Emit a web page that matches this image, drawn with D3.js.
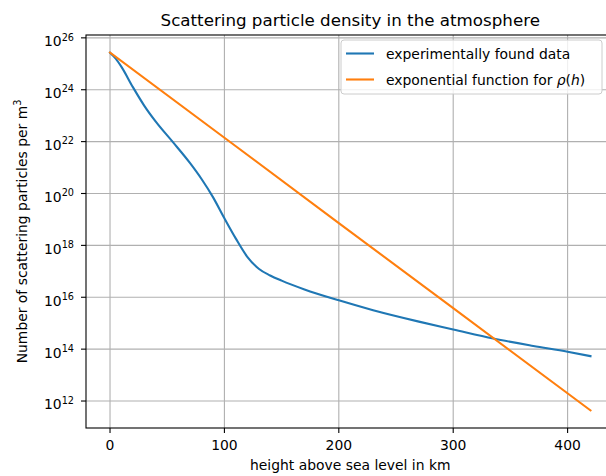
<!DOCTYPE html>
<html><head><meta charset="utf-8">
<script src="https://cdn.jsdelivr.net/npm/d3@7"></script>
<style>body{margin:0;background:#fff}svg{display:block}text{font-family:"DejaVu Sans",sans-serif;fill:#000}</style>
</head><body>
<script>
// Data
const heights = [0, 5, 10, 20, 30, 40, 55, 70, 80, 90, 100, 110, 120, 130, 140, 150, 170, 200, 230, 270, 300, 335, 370, 400, 420];
const measured = [2.69e25, 1.58e25, 7.59e24, 1.26e24, 2.40e23, 5.89e22, 9.55e21, 1.48e21, 3.63e20, 7.24e19, 1.10e19, 1.82e18, 3.63e17, 1.26e17, 6.92e16, 4.37e16, 2.00e16, 7.59e15, 3.16e15, 1.15e15, 5.75e14, 2.57e14, 1.33e14, 7.94e13, 5.37e13];
const expHeights = [0, 100, 200, 300, 420];
const expValues = [2.7e25, 1.41e22, 7.24e18, 3.8e15, 4.37e11];
const xTicks = [0, 100, 200, 300, 400];
const yTickExps = [12, 14, 16, 18, 20, 22, 24, 26];
const seriesNames = ["experimentally found data", "exponential function for ρ(h)"];
const colors = ["#1f77b4", "#ff7f0e"];

(function () {
const W = 606, H = 476;
const svg = d3.select("body").append("svg").attr("width", W).attr("height", H);
const pl = 86, pr = 614.5, pt = 35, pb = 428;
const x = d3.scaleLinear().domain([-21, 441]).range([pl, pr]);
const y = d3.scaleLog().domain([Math.pow(10, 10.96), Math.pow(10, 26.11)]).range([pb, pt]);

// grid
const g = svg.append("g");
g.selectAll(".gx").data(xTicks).enter().append("line")
  .attr("x1", d => x(d)).attr("x2", d => x(d)).attr("y1", pt).attr("y2", pb)
  .attr("stroke", "#b0b0b0").attr("stroke-width", 1.1);
g.selectAll(".gy").data(yTickExps).enter().append("line")
  .attr("x1", pl).attr("x2", pr).attr("y1", d => y(Math.pow(10, d))).attr("y2", d => y(Math.pow(10, d)))
  .attr("stroke", "#b0b0b0").attr("stroke-width", 1.1);

// lines
const lineGen = d3.line().x(d => x(d[0])).y(d => y(d[1])).curve(d3.curveMonotoneX);
svg.append("path").datum(heights.map((h, i) => [h, measured[i]]))
  .attr("d", lineGen).attr("fill", "none").attr("stroke", colors[0]).attr("stroke-width", 2.1).attr("stroke-linecap", "square");
svg.append("path").datum(expHeights.map((h, i) => [h, expValues[i]]))
  .attr("d", d3.line().x(d => x(d[0])).y(d => y(d[1]))).attr("fill", "none").attr("stroke", colors[1]).attr("stroke-width", 2.1).attr("stroke-linecap", "square");

// spines
svg.append("rect").attr("x", pl).attr("y", pt).attr("width", pr - pl).attr("height", pb - pt)
  .attr("fill", "none").attr("stroke", "#000").attr("stroke-width", 1.1);

// x axis ticks
const xa = svg.append("g");
xTicks.forEach(t => {
  xa.append("line").attr("x1", x(t)).attr("x2", x(t)).attr("y1", pb).attr("y2", pb + 5).attr("stroke", "#000").attr("stroke-width", 1.1);
  xa.append("text").attr("x", x(t)).attr("y", pb + 22).attr("text-anchor", "middle").attr("font-size", "13.9px").text(t);
});
// y axis ticks
const ya = svg.append("g");
yTickExps.forEach(e => {
  const yy = y(Math.pow(10, e));
  ya.append("line").attr("x1", pl - 5).attr("x2", pl).attr("y1", yy).attr("y2", yy).attr("stroke", "#000").attr("stroke-width", 1.1);
  const t = ya.append("text").attr("x", 74).attr("y", yy + 8.4).attr("text-anchor", "end").attr("font-size", "13.9px");
  t.append("tspan").text("10");
  t.append("tspan").attr("dy", -5.7).attr("font-size", "9.7px").text(e);
});

// title and labels
svg.append("text").attr("x", (pl + pr) / 2).attr("y", 26).attr("text-anchor", "middle").attr("font-size", "16.7px")
  .text("Scattering particle density in the atmosphere");
svg.append("text").attr("x", (pl + pr) / 2).attr("y", 470).attr("text-anchor", "middle").attr("font-size", "13.9px")
  .text("height above sea level in km");
const yl = svg.append("text").attr("transform", `translate(27,${(pt + pb) / 2}) rotate(-90)`).attr("text-anchor", "middle").attr("font-size", "13.9px");
yl.append("tspan").text("Number of scattering particles per m");
yl.append("tspan").attr("dy", -5.7).attr("font-size", "9.7px").text("3");

// legend
const lg = svg.append("g");
lg.append("rect").attr("x", 341).attr("y", 40).attr("width", 261).attr("height", 54).attr("rx", 3)
  .attr("fill", "#fff").attr("fill-opacity", 0.8).attr("stroke", "#cccccc").attr("stroke-width", 1);
[53.5, 79.5].forEach((ly, i) => {
  lg.append("line").attr("x1", 346).attr("x2", 374).attr("y1", ly).attr("y2", ly).attr("stroke", colors[i]).attr("stroke-width", 2.1);
});
lg.append("text").attr("x", 386).attr("y", 58.5).attr("font-size", "13.9px").text(seriesNames[0]);
const l2 = lg.append("text").attr("x", 386).attr("y", 84.5).attr("font-size", "13.9px");
l2.append("tspan").text("exponential function for ");
l2.append("tspan").attr("font-style", "italic").text("ρ");
l2.append("tspan").text("(");
l2.append("tspan").attr("font-style", "italic").text("h");
l2.append("tspan").text(")");
})();
</script>
</body></html>
